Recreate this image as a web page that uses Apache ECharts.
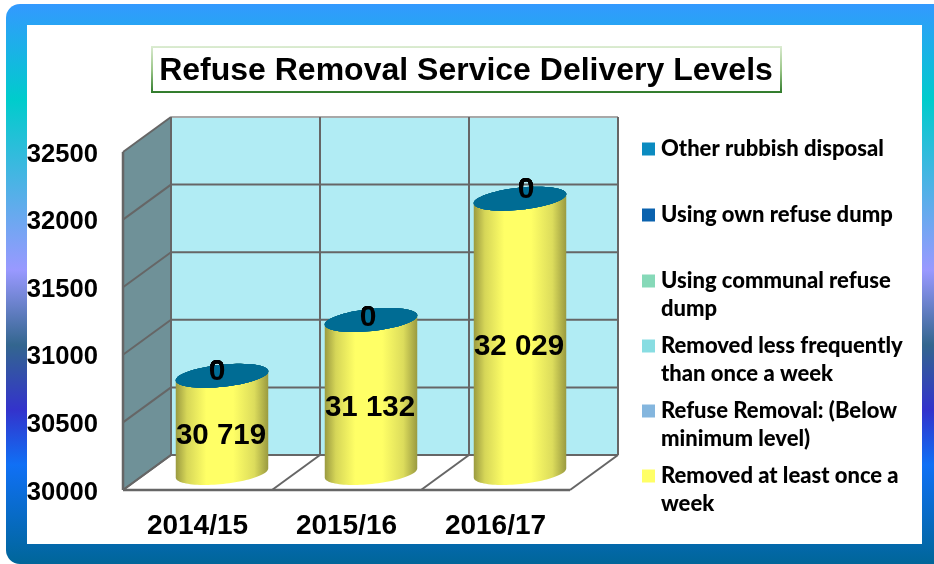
<!DOCTYPE html>
<html><head><meta charset="utf-8">
<style>html,body{margin:0;padding:0;background:#fff;overflow:hidden}#c{width:934px;height:564px}</style>
<script src="https://cdn.jsdelivr.net/npm/echarts@6/dist/echarts.min.js"></script>
</head><body><div id="c"></div>
<script>
const chartTitle = 'Refuse Removal Service Delivery Levels';
const categories = ['2014/15', '2015/16', '2016/17'];
const valueTicks = [30000, 30500, 31000, 31500, 32000, 32500];
const removedAtLeastWeekly = [30719, 31132, 32029];
const belowMinimum = [0, 0, 0];
const removedLessFrequently = [0, 0, 0];
const communalDump = [0, 0, 0];
const ownDump = [0, 0, 0];
const otherDisposal = [0, 0, 0];
const seriesNames = ['Removed at least once a week', 'Refuse Removal: (Below minimum level)', 'Removed less frequently than once a week', 'Using communal refuse dump', 'Using own refuse dump', 'Other rubbish disposal'];
const seriesValues = [removedAtLeastWeekly, belowMinimum, removedLessFrequently, communalDump, ownDump, otherDisposal];
const seriesColors = ['#ffff66', '#84b6de', '#88dde2', '#86d9b8', '#0a62ae', '#0b8bc0'];
const legendWrap = {
  'Removed at least once a week': 'Removed at least once a\nweek',
  'Refuse Removal: (Below minimum level)': 'Refuse Removal: (Below\nminimum level)',
  'Removed less frequently than once a week': 'Removed less frequently\nthan once a week',
  'Using communal refuse dump': 'Using communal refuse\ndump'
};

const DX = 48, DY = -35, HALF_DX = 24.5, HALF_DY = -17;
const LINE = '#666666';
const zeroNudge = [[-5, -4], [-3, -2], [6, -9]];
const valueLabelDrop = 11;

function ellipsePoints(cx, cy, a, b, from, to, n) {
  const rot = -6 * Math.PI / 180, pts = [];
  for (let i = 0; i <= n; i++) {
    const t = from + (to - from) * i / n;
    const x = a * Math.cos(t), y = b * Math.sin(t);
    pts.push([cx + x * Math.cos(rot) - y * Math.sin(rot), cy + x * Math.sin(rot) + y * Math.cos(rot)]);
  }
  return pts;
}

function renderWalls(params, api) {
  if (params.dataIndex !== 0) return { type: 'group', children: [] };
  const band = api.size([1, 0])[0];
  const lo = valueTicks[0], hi = valueTicks[valueTicks.length - 1];
  const left = api.coord([0, lo])[0] - band / 2;
  const yLo = api.coord([0, lo])[1], yHi = api.coord([0, hi])[1];
  const right = left + band * categories.length;
  const line = (x1, y1, x2, y2, c, w) => ({ type: 'line', shape: { x1, y1, x2, y2 }, style: { stroke: c || LINE, lineWidth: w || 2 } });
  const kids = [
    { type: 'polygon', shape: { points: [[left, yHi], [left + DX, yHi + DY], [left + DX, yLo + DY], [left, yLo]] }, style: { fill: '#6f9198' } },
    { type: 'rect', shape: { x: left + DX, y: yHi + DY, width: right - left, height: yLo - yHi }, style: { fill: '#b1ecf4' } },
    { type: 'polygon', shape: { points: [[left, yLo], [left + DX, yLo + DY], [right + DX, yLo + DY], [right, yLo]] }, style: { fill: '#ffffff' } }
  ];
  valueTicks.forEach((v, i) => {
    const y = api.coord([0, v])[1];
    const c = i === valueTicks.length - 1 ? '#a8a8a8' : LINE;
    kids.push(line(left + DX, y + DY, right + DX, y + DY, c));
    kids.push(line(left, y, left + DX, y + DY, LINE));
  });
  for (let i = 0; i <= categories.length; i++) {
    const x = left + band * i;
    kids.push(line(x + DX, yHi + DY, x + DX, yLo + DY, LINE));
    kids.push(line(x, yLo, x + DX, yLo + DY, LINE));
  }
  kids.push(line(left, yHi, left, yLo, LINE, 2.5));
  kids.push(line(left, yLo, right, yLo, LINE, 2.5));
  return { type: 'group', children: kids };
}

function renderCylinder(seriesIdx) {
  return function (params, api) {
    const i = params.dataIndex;
    const base = seriesValues.slice(0, seriesIdx).reduce((s, arr) => s + arr[i], 0);
    const val = api.value(1);
    const bottom = api.coord([i, Math.max(base, valueTicks[0])]);
    const top = api.coord([i, base + val]);
    const a = 46.5, b = 11;
    const cx = top[0] + HALF_DX, yT = top[1] + HALF_DY, yB = bottom[1] + HALF_DY;
    const kids = [];
    if (val > 0) {
      const lower = ellipsePoints(cx, yB, a, b, 0, Math.PI, 48);
      const upper = ellipsePoints(cx, yT, a, b, Math.PI, 2 * Math.PI, 48);
      kids.push({
        type: 'polygon',
        shape: { points: lower.concat(upper) },
        style: {
          fill: new echarts.graphic.LinearGradient(0, 0, 1, 0, [
            { offset: 0, color: '#9a9a40' }, { offset: 0.12, color: '#d6d658' }, { offset: 0.33, color: '#ffff66' },
            { offset: 0.62, color: '#ffff66' }, { offset: 0.85, color: '#dcdc5c' }, { offset: 1, color: '#9a9a40' }
          ])
        }
      });
      kids.push({
        type: 'text',
        style: { text: categoriesValueText(val), x: cx - 1, y: (yT + yB) / 2 + valueLabelDrop, align: 'center', verticalAlign: 'middle', fill: '#000', font: 'bold 29.5px "Liberation Sans"' }
      });
    } else {
      kids.push({ type: 'polygon', shape: { points: ellipsePoints(cx, yT, a, b, 0, 2 * Math.PI, 72) }, style: { fill: '#006c94' } });
      kids.push({
        type: 'text', z2: 10,
        style: { text: String(val), x: cx + zeroNudge[i][0], y: yT + zeroNudge[i][1], align: 'center', verticalAlign: 'middle', fill: '#000', font: 'bold 30px "Liberation Sans"' }
      });
    }
    return { type: 'group', children: kids };
  };
}
function categoriesValueText(v) {
  const s = String(v);
  return s.slice(0, -3) + ' ' + s.slice(-3);
}

const series = [{
  type: 'custom', name: '__walls', silent: true, clip: false, z: 1,
  coordinateSystem: 'cartesian2d', renderItem: renderWalls,
  encode: { x: 0, y: 1 }, data: categories.map((c, i) => [i, valueTicks[0]])
}].concat(seriesNames.map((name, s) => ({
  type: 'custom', name, clip: false, z: 2 + s,
  coordinateSystem: 'cartesian2d', renderItem: renderCylinder(s),
  itemStyle: { color: seriesColors[s] },
  encode: { x: 0, y: 1 }, data: seriesValues[s].map((v, i) => [i, v])
})));

const legendTops = { 'Other rubbish disposal': 149, 'Using own refuse dump': 215, 'Using communal refuse dump': 281, 'Removed less frequently than once a week': 346, 'Refuse Removal: (Below minimum level)': 411, 'Removed at least once a week': 476 };
const legends = Object.keys(legendTops).map(name => {
  const two = !!legendWrap[name];
  const boxH = two ? 84 : 28;
  return {
    left: 642, top: legendTops[name] - (boxH / 2), orient: 'vertical', padding: 0,
    data: [{ name, icon: 'rect', itemStyle: { color: seriesColors[seriesNames.indexOf(name)] } }],
    itemWidth: 13, itemHeight: 13, itemGap: 0, selectedMode: false,
    formatter: n => legendWrap[n] ? '\n' + legendWrap[n] : n,
    textStyle: { fontFamily: 'Lato', fontWeight: 900, fontSize: 22, lineHeight: 28, color: '#000', padding: [0, 0, 0, 1] }
  };
});

const chart = echarts.init(document.getElementById('c'), null, { renderer: 'canvas' });
chart.setOption({
  animation: false,
  title: {
    text: chartTitle, left: 466, top: 71, textAlign: 'center', textVerticalAlign: 'middle', padding: 0,
    textStyle: { fontFamily: 'Liberation Sans', fontWeight: 'bold', fontSize: 32, color: '#000' }
  },
  graphic: [
    { type: 'rect', z: -10, silent: true, shape: { x: 6, y: 4, width: 950, height: 560, r: 14 },
      style: { fill: new echarts.graphic.LinearGradient(0, 0, 0, 1, [
        { offset: 0, color: '#3399ff' }, { offset: 0.171, color: '#00cccc' }, { offset: 0.475, color: '#9999ff' },
        { offset: 0.609, color: '#33668f' }, { offset: 0.725, color: '#3333cc' }, { offset: 0.823, color: '#1070f5' }, { offset: 1, color: '#006699' }
      ]) } },
    { type: 'rect', z: -9, silent: true, shape: { x: 27, y: 25, width: 895, height: 519 }, style: { fill: '#ffffff' } },
    { type: 'rect', z: -8, silent: true, shape: { x: 152, y: 47, width: 629, height: 45 },
      style: { fill: '#ffffff', lineWidth: 2, stroke: new echarts.graphic.LinearGradient(0, 0, 0, 1, [
        { offset: 0, color: '#dcecd2' }, { offset: 0.5, color: '#9cc78a' }, { offset: 1, color: '#2f7a2a' }
      ]) } }
  ],
  grid: { left: 123, right: 364, top: 152, bottom: 74 },
  xAxis: {
    type: 'category', data: categories, z: 5,
    axisLine: { show: false }, axisTick: { show: false },
    axisLabel: { margin: 22, color: '#000', fontFamily: 'Liberation Sans', fontWeight: 'bold', fontSize: 28 }
  },
  yAxis: {
    type: 'value', min: valueTicks[0], max: valueTicks[valueTicks.length - 1], interval: 500,
    axisLine: { show: false }, axisTick: { show: false }, splitLine: { show: false },
    axisLabel: { margin: 25, color: '#000', fontFamily: 'Liberation Sans', fontWeight: 'bold', fontSize: 25.6, formatter: v => String(v), verticalAlign: 'top', lineHeight: 5 }
  },
  legend: legends,
  series
});
</script></body></html>
